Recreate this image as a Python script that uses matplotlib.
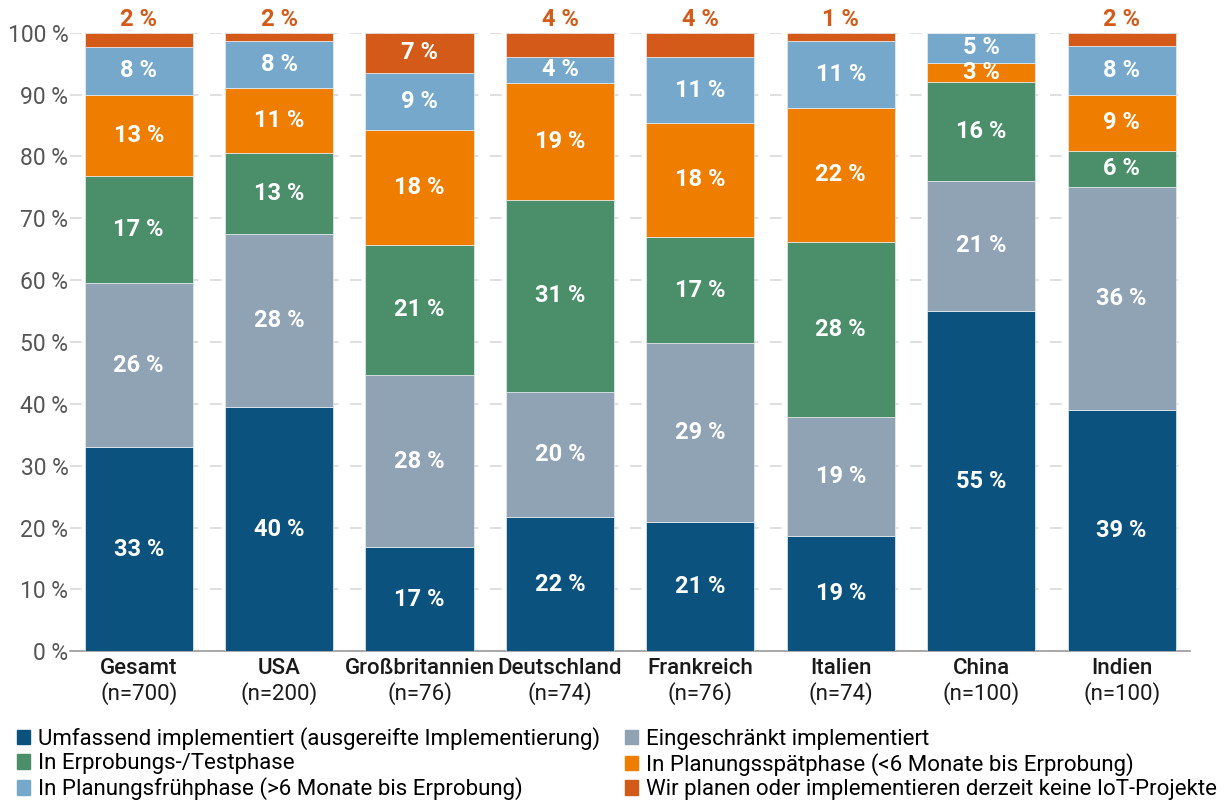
import matplotlib.pyplot as plt
import matplotlib.transforms as mtransforms
from matplotlib.patches import Patch

plt.rcParams['font.family'] = ['Roboto', 'DejaVu Sans']

laender = ['Gesamt', 'USA', 'Großbritannien', 'Deutschland', 'Frankreich', 'Italien', 'China', 'Indien']
stichprobe = ['(n=700)', '(n=200)', '(n=76)', '(n=74)', '(n=76)', '(n=74)', '(n=100)', '(n=100)']

kategorien = ['Umfassend implementiert (ausgereifte Implementierung)',
              'Eingeschränkt implementiert',
              'In Erprobungs-/Testphase',
              'In Planungsspätphase (<6 Monate bis Erprobung)',
              'In Planungsfrühphase (>6 Monate bis Erprobung)',
              'Wir planen oder implementieren derzeit keine IoT-Projekte']

# Segmenthoehen
umfassend     = [33.0, 39.5, 16.8, 21.7, 20.9, 18.6, 55.0, 39.0]
eingeschraenkt = [26.5, 28.0, 27.9, 20.2, 28.9, 19.3, 21.1, 36.1]
erprobung     = [17.4, 13.1, 21.0, 31.1, 17.2, 28.3, 16.0, 5.8]
spaet         = [13.1, 10.5, 18.6, 18.9, 18.4, 21.7, 3.0, 9.1]
frueh         = [7.7, 7.6, 9.2, 4.2, 10.7, 10.8, 4.9, 7.9]
keine         = [2.3, 1.3, 6.5, 3.9, 3.9, 1.3, 0.0, 2.1]

# beschriftete Werte
lab_umfassend     = [33, 40, 17, 22, 21, 19, 55, 39]
lab_eingeschraenkt = [26, 28, 28, 20, 29, 19, 21, 36]
lab_erprobung     = [17, 13, 21, 31, 17, 28, 16, 6]
lab_spaet         = [13, 11, 18, 19, 18, 22, 3, 9]
lab_frueh         = [8, 8, 9, 4, 11, 11, 5, 8]
lab_keine         = [2, 2, 7, 4, 4, 1, None, 2]

farben = ['#0b527f', '#8fa3b4', '#4a8f6a', '#ef7d00', '#76a8cb', '#d35a18']

serien = [umfassend, eingeschraenkt, erprobung, spaet, frueh, keine]
labels = [lab_umfassend, lab_eingeschraenkt, lab_erprobung, lab_spaet, lab_frueh, lab_keine]

fig = plt.figure(figsize=(12.26, 8), dpi=100)
ax = fig.add_axes([0.057, 0.186, 0.914, 0.773])

x = list(range(len(laender)))
bottom = [0.0] * len(laender)
for i, (werte, labs) in enumerate(zip(serien, labels)):
    ax.bar(x, werte, width=0.77, bottom=bottom, color=farben[i],
           edgecolor='#e8eef2', linewidth=0.5, zorder=3, label=kategorien[i])
    for j in x:
        if labs[j] is None:
            continue
        if i == 5 and werte[j] < 5:
            # kleine Segmente oben drueber
            ax.text(j, 100 + 0.3, f'{labs[j]} %', ha='center', va='bottom',
                    color='#d35a18', fontsize=17, fontweight='bold', clip_on=False)
        else:
            ax.text(j, bottom[j] + werte[j] / 2, f'{labs[j]} %', ha='center', va='center',
                    color='white', fontsize=17, fontweight='bold', zorder=4)
    bottom = [b + w for b, w in zip(bottom, werte)]

ax.set_xlim(-0.49, 7.49)
ax.set_ylim(0, 100)
ax.set_yticks(range(0, 101, 10))
ax.set_yticklabels([f'{v} %' for v in range(0, 101, 10)], fontsize=16.5, color='#555555')
ax.tick_params(axis='y', length=0, pad=1)
ax.tick_params(axis='x', length=0)
ax.set_xticks([])
ax.yaxis.grid(True, color='#d9d9d9', linestyle=(0, (7, 7)), linewidth=1.2, zorder=0)
for s in ['top', 'right', 'left']:
    ax.spines[s].set_visible(False)
ax.spines['bottom'].set_color('#9a9a9a')
ax.spines['bottom'].set_linewidth(1.2)

trans = mtransforms.blended_transform_factory(ax.transData, fig.transFigure)
for j, (name, n) in enumerate(zip(laender, stichprobe)):
    ax.text(j, 1 - 669 / 800, name, transform=trans, ha='center', va='center',
            fontsize=16, fontweight='medium', color='#1a1a1a')
    ax.text(j, 1 - 694 / 800, n, transform=trans, ha='center', va='center',
            fontsize=16, color='#1a1a1a')

handles = [Patch(color=farben[k]) for k in range(6)]
order = [0, 2, 4, 1, 3, 5]
fig.legend([handles[k] for k in order], [kategorien[k] for k in order],
           loc='upper left', bbox_to_anchor=(0.014, 0.091), ncol=2, frameon=False,
           fontsize=16, handlelength=0.6, handleheight=0.6, handletextpad=0.35,
           labelspacing=0.14, columnspacing=1.1, borderaxespad=0, borderpad=0)

fig.savefig('out.png', dpi=100)
